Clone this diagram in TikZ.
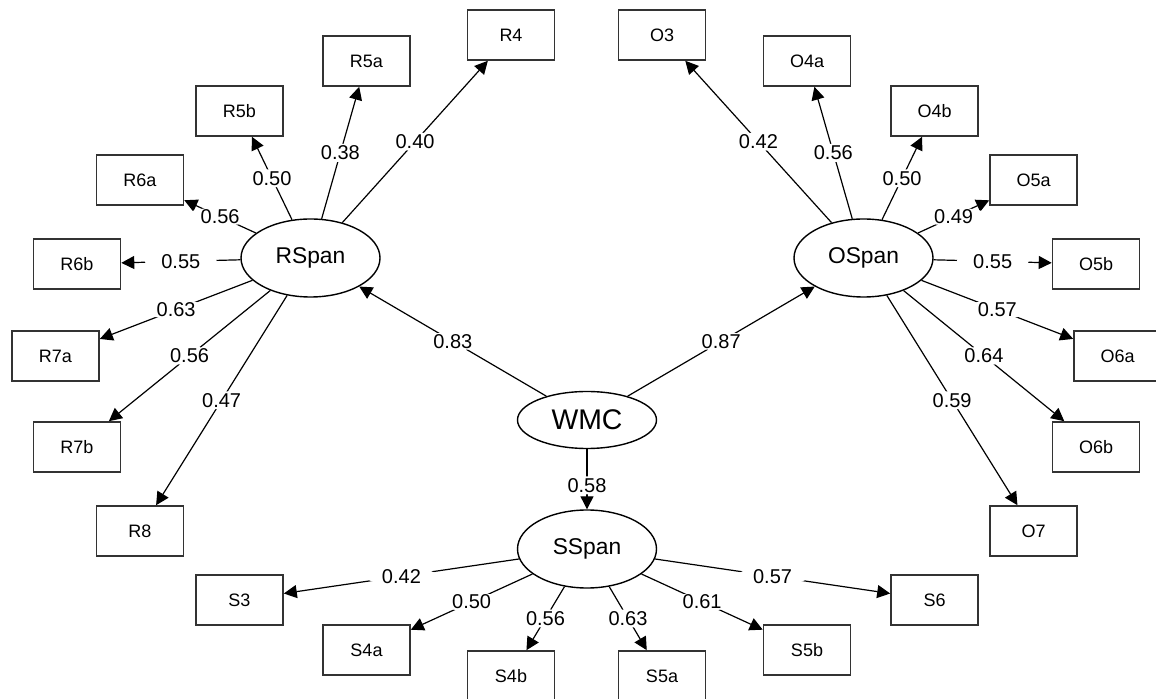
\documentclass[tikz,border=0pt]{standalone}
\usepackage{fontspec}
\setmainfont{Liberation Sans}
\usetikzlibrary{arrows.meta,shapes.geometric}

\begin{document}
\begin{tikzpicture}[x=0.5pt,y=-0.5pt,
    obs/.style={draw=black!80,line width=0.8pt,minimum width=43.5pt,minimum height=25pt,inner sep=0pt,font=\fontsize{9}{10}\selectfont},
    lat/.style={ellipse,draw,line width=0.7pt,minimum width=69.5pt,minimum height=39pt,inner sep=0pt,font=\fontsize{11.4}{13}\selectfont},
    load/.style={-{Triangle[length=6.5pt,width=6.5pt]},line width=0.6pt},
    lbl/.style={minimum width=36pt,minimum height=9pt,inner sep=0pt,font=\fontsize{10}{12}\selectfont,
        path picture={\fill[white] (path picture bounding box.center) ellipse (18pt and 4.5pt);}}]
                \useasboundingbox (0,0) rectangle (1156,699);

                \node[lat] (RSpan) at (310.5,258) {RSpan};
                \node[lat] (OSpan) at (863.5,258) {OSpan};
                \node[lat,minimum height=28.5pt,font=\fontsize{14.2}{16}\selectfont] (WMC) at (587,420) {WMC};
                \node[lat] (SSpan) at (587,549) {SSpan};

                \node[obs] (R4) at (511,35) {R4};
                \node[obs] (R5a) at (366.5,61) {R5a};
                \node[obs] (R5b) at (239.5,111) {R5b};
                \node[obs] (R6a) at (140,180) {R6a};
                \node[obs] (R6b) at (77,264) {R6b};
                \node[obs] (R7a) at (55.5,356) {R7a};
                \node[obs] (R7b) at (77,447) {R7b};
                \node[obs] (R8) at (140,531) {R8};

                \node[obs] (O3) at (662,35) {O3};
                \node[obs] (O4a) at (807,61) {O4a};
                \node[obs] (O4b) at (934.5,111) {O4b};
                \node[obs] (O5a) at (1033.5,180) {O5a};
                \node[obs] (O5b) at (1096,264) {O5b};
                \node[obs] (O6a) at (1117.5,356) {O6a};
                \node[obs] (O6b) at (1096,447) {O6b};
                \node[obs] (O7) at (1033.5,531) {O7};

                \node[obs] (S3) at (239.5,600) {S3};
                \node[obs] (S4a) at (366.5,650) {S4a};
                \node[obs] (S4b) at (511,676) {S4b};
                \node[obs] (S5a) at (662,676) {S5a};
                \node[obs] (S5b) at (807,650) {S5b};
                \node[obs] (S6) at (934.5,600) {S6};

                \draw[load] (WMC) -- node[lbl] {0.83} (RSpan);
                \draw[load] (WMC) -- node[lbl] {0.87} (OSpan);
                \draw[load] (WMC) -- node[lbl,pos=0.6] {0.58} (SSpan);

                \draw[load] (RSpan) -- node[lbl] {0.40} (R4);
                \draw[load] (RSpan) -- node[lbl] {0.38} (R5a);
                \draw[load] (RSpan) -- node[lbl] {0.50} (R5b);
                \draw[load] (RSpan) -- node[lbl] {0.56} (R6a);
                \draw[load] (RSpan) -- node[lbl] {0.55} (R6b);
                \draw[load] (RSpan) -- node[lbl] {0.63} (R7a);
                \draw[load] (RSpan) -- node[lbl] {0.56} (R7b);
                \draw[load] (RSpan) -- node[lbl] {0.47} (R8);

                \draw[load] (OSpan) -- node[lbl] {0.42} (O3);
                \draw[load] (OSpan) -- node[lbl] {0.56} (O4a);
                \draw[load] (OSpan) -- node[lbl] {0.50} (O4b);
                \draw[load] (OSpan) -- node[lbl] {0.49} (O5a);
                \draw[load] (OSpan) -- node[lbl] {0.55} (O5b);
                \draw[load] (OSpan) -- node[lbl] {0.57} (O6a);
                \draw[load] (OSpan) -- node[lbl] {0.64} (O6b);
                \draw[load] (OSpan) -- node[lbl] {0.59} (O7);

                \draw[load] (SSpan) -- node[lbl] {0.42} (S3);
                \draw[load] (SSpan) -- node[lbl] {0.50} (S4a);
                \draw[load] (SSpan) -- node[lbl] {0.56} (S4b);
                \draw[load] (SSpan) -- node[lbl] {0.63} (S5a);
                \draw[load] (SSpan) -- node[lbl] {0.61} (S5b);
                \draw[load] (SSpan) -- node[lbl] {0.57} (S6);
\end{tikzpicture}
\end{document}
